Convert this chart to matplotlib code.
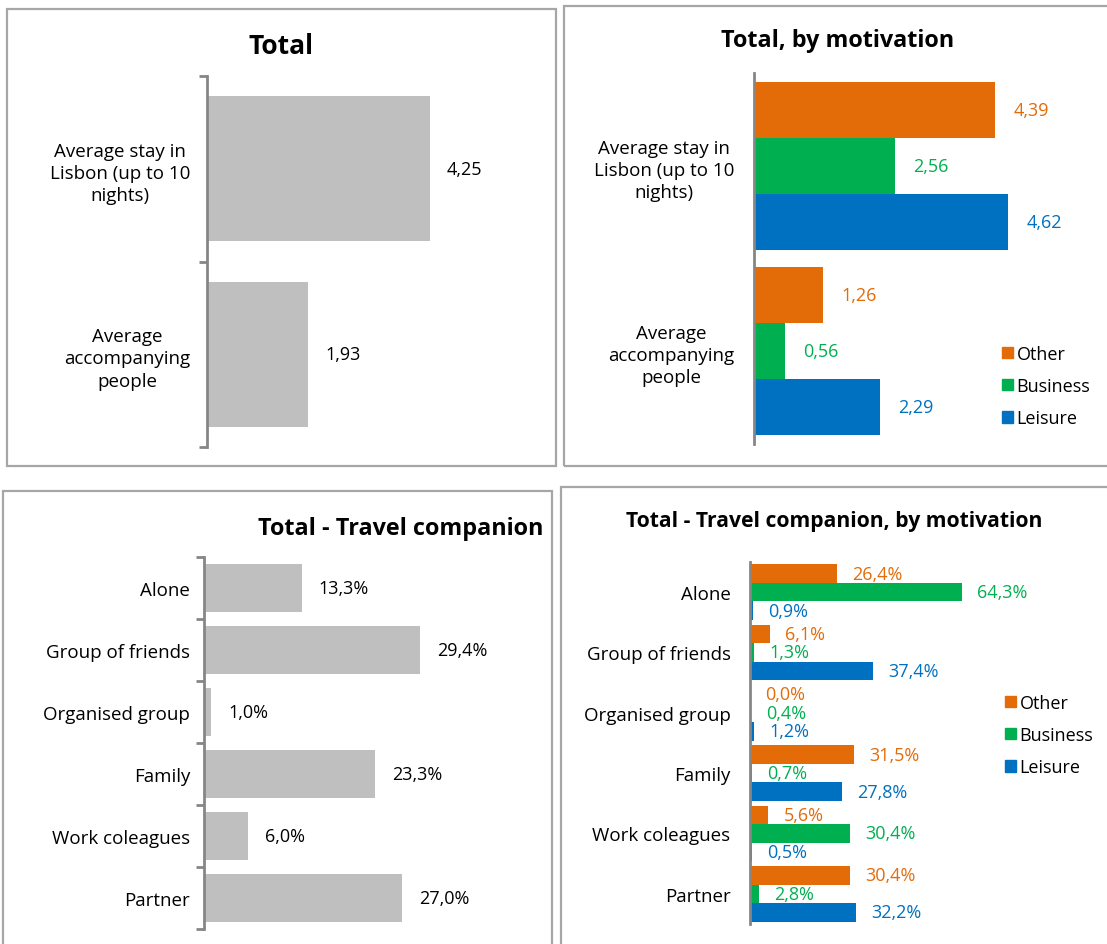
import matplotlib
matplotlib.use("Agg")
import matplotlib.pyplot as plt
from matplotlib.patches import Rectangle, Patch
import numpy as np

plt.rcParams['font.family'] = ['Open Sans', 'DejaVu Sans']

# ---------------- data ----------------
stay_cats = ["Average stay in\nLisbon (up to 10\nnights)", "Average\naccompanying\npeople"]
stay_total = [4.25, 1.93]
motivations = ["Other", "Business", "Leisure"]
stay_other = [4.39, 1.26]
stay_business = [2.56, 0.56]
stay_leisure = [4.62, 2.29]

comp_cats = ["Alone", "Group of friends", "Organised group", "Family", "Work coleagues", "Partner"]
comp_total = [13.3, 29.4, 1.0, 23.3, 6.0, 27.0]
comp_other = [26.4, 6.1, 0.0, 31.5, 5.6, 30.4]
comp_business = [64.3, 1.3, 0.4, 0.7, 30.4, 2.8]
comp_leisure = [0.9, 37.4, 1.2, 27.8, 0.5, 32.2]

titles = ["Total", "Total, by motivation", "Total - Travel companion",
          "Total - Travel companion, by motivation"]

# ---------------- style ----------------
W, H = 1107, 945
GREY_BAR = "#BFBFBF"
COLORS = {"Other": "#E36C09", "Business": "#00B050", "Leisure": "#0070C0"}
SPINE = "#868686"
FRAME = "#A6A6A6"
FS = 13        # value labels / legend
TFS = 13.5     # category labels

fig = plt.figure(figsize=(W / 100, H / 100), dpi=100)


def px_rect(x0, y0, x1, y1):
    return [x0 / W, 1 - y1 / H, (x1 - x0) / W, (y1 - y0) / H]


def frame(x0, y0, x1, y1):
    fig.patches.append(Rectangle((x0 / W, 1 - y1 / H), (x1 - x0) / W, (y1 - y0) / H,
                                 transform=fig.transFigure, fill=False,
                                 edgecolor=FRAME, linewidth=1.6))


def style_axis(ax, ncat, boundary_ticks, pad):
    for s in ["top", "right", "bottom"]:
        ax.spines[s].set_visible(False)
    ax.spines["left"].set_color(SPINE)
    ax.spines["left"].set_linewidth(2)
    ax.set_xticks([])
    ax.set_ylim(ncat - 0.5, -0.5)
    ax.tick_params(axis="y", which="major", length=0, pad=pad, labelsize=TFS)
    if boundary_ticks:
        ax.set_yticks(np.arange(-0.5, ncat, 1.0), minor=True)
        ax.tick_params(axis="y", which="minor", length=6, width=2, color=SPINE)
    ax.patch.set_visible(False)


def fmt2(v):
    return f"{v:.2f}".replace(".", ",")


def fmtp(v):
    return f"{v:.1f}%".replace(".", ",")


# frames
frame(7, 10, 556, 467)
frame(564, 7, 1112, 467)
frame(3, 492, 552, 950)
frame(561, 488, 1112, 950)

# ---------------- panel 1: Total ----------------
ax1 = fig.add_axes(px_rect(207, 77, 207 + 6 * 52.5, 448))
y = np.arange(len(stay_cats))
b = ax1.barh(y, stay_total, height=0.78, color=GREY_BAR)
ax1.set_xlim(0, 6)
style_axis(ax1, len(stay_cats), True, 12)
ax1.set_yticks(y)
ax1.set_yticklabels(stay_cats, multialignment="center", linespacing=1.3)
ax1.bar_label(b, labels=[fmt2(v) for v in stay_total], padding=12, fontsize=FS)
fig.text(281 / W, 1 - 46 / H, titles[0], ha="center", va="center",
         fontsize=19, fontweight="bold")

# ---------------- panel 2: by motivation ----------------
ax2 = fig.add_axes(px_rect(754, 74, 754 + 6 * 55, 444.5))
y = np.arange(len(stay_cats))
h = 0.302
for off, name, vals in zip([-h, 0, h], motivations, [stay_other, stay_business, stay_leisure]):
    bb = ax2.barh(y + off, vals, height=h, color=COLORS[name], label=name)
    ax2.bar_label(bb, labels=[fmt2(v) for v in vals], padding=13, fontsize=FS,
                  color=COLORS[name])
ax2.set_xlim(0, 6)
style_axis(ax2, len(stay_cats), False, 14)
ax2.set_yticks(y)
ax2.set_yticklabels(stay_cats, multialignment="center", linespacing=1.3)
fig.text(838 / W, 1 - 41 / H, titles[1], ha="center", va="center",
         fontsize=16.8, fontweight="bold")
handles = [Patch(color=COLORS[m]) for m in motivations]
legend_kw = dict(frameon=False, fontsize=FS, handlelength=0.6, handleheight=0.6,
                 handletextpad=0.2, labelspacing=0.78, borderpad=0, borderaxespad=0,
                 loc="upper left", bbox_transform=fig.transFigure)
fig.legend(handles, motivations, bbox_to_anchor=(1002 / W, 1 - 346 / H), **legend_kw)

# ---------------- panel 3: Travel companion ----------------
ax3 = fig.add_axes(px_rect(204, 558, 204 + 40 * 7.35, 930))
y = np.arange(len(comp_cats))
b = ax3.barh(y, comp_total, height=0.77, color=GREY_BAR)
ax3.set_xlim(0, 40)
style_axis(ax3, len(comp_cats), True, 10)
ax3.set_yticks(y)
ax3.set_yticklabels(comp_cats)
ax3.bar_label(b, labels=[fmtp(v) for v in comp_total], padding=12, fontsize=FS)
fig.text(543 / W, 1 - 529 / H, titles[2], ha="right", va="center",
         fontsize=16.8, fontweight="bold")

# ---------------- panel 4: Travel companion by motivation ----------------
ax4 = fig.add_axes(px_rect(750, 563, 750 + 80 * 3.3, 925))
y = np.arange(len(comp_cats))
h = 0.307
for off, name, vals in zip([-h, 0, h], motivations, [comp_other, comp_business, comp_leisure]):
    bb = ax4.barh(y + off, vals, height=h, color=COLORS[name], label=name)
    ax4.bar_label(bb, labels=[fmtp(v) for v in vals], padding=11, fontsize=FS,
                  color=COLORS[name])
ax4.set_xlim(0, 80)
style_axis(ax4, len(comp_cats), False, 14)
ax4.set_yticks(y)
ax4.set_yticklabels(comp_cats)
fig.text(834 / W, 1 - 521 / H, titles[3], ha="center", va="center",
         fontsize=15.2, fontweight="bold")
fig.legend(handles, motivations, bbox_to_anchor=(1005 / W, 1 - 695 / H), **legend_kw)

fig.savefig("out.png", dpi=100)
